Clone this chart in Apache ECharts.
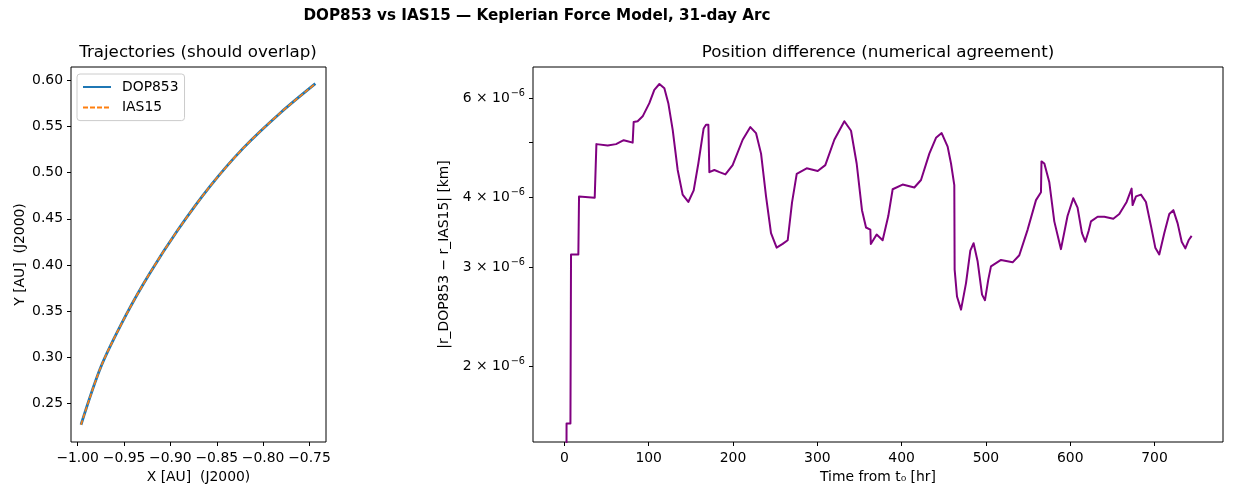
<!DOCTYPE html>
<html lang="en">
<head>
<meta charset="UTF-8">
<script src="https://cdn.jsdelivr.net/npm/echarts@6/dist/echarts.min.js"></script>
<style>
    html, body { margin: 0; padding: 0; background: #fff; }
    #chart { width: 1233px; height: 495px; }
</style>
</head>
<body>
<div id="chart"></div>
<script>
// heliocentric arc, AU (J2000) -- both integrators give the same track
var trajX = [-0.9964, -0.9748, -0.9478, -0.9227, -0.8920, -0.8571, -0.8212, -0.7815, -0.7437];
var trajY = [0.2273, 0.2903, 0.3461, 0.3904, 0.4379, 0.4854, 0.5268, 0.5646, 0.5963];

// time from t0 [hr]
var tHours = [0, 2.6, 7.2, 7.9, 16.6, 17.4, 36.0, 37.2, 38.0, 51.4, 61.3, 70.4, 75, 81,
    82.2, 86.9, 92.9, 100.8, 106.7, 112.7, 118.6, 123.3, 128.5, 134.4, 140.3, 147, 153.4,
    158.9, 165.2, 168, 170.8, 172, 177.9, 184, 191, 199.6, 211.5, 220.6, 227.3, 233.3,
    239.2, 245.1, 251.8, 258.9, 264.9, 270, 275.6, 287.4, 300.5, 309.5, 320.2, 332.1, 340,
    346.7, 353, 357.8, 362.9, 363.5, 370.4, 377.5, 384.2, 389.4, 401.2, 415.1, 423, 432.9,
    440.8, 447.5, 454.6, 458.6, 462.5, 462.9, 465.7, 470.5, 476.4, 481.5, 485.4, 490.2,
    495.4, 498.9, 502.8, 506, 517.9, 531.7, 539.6, 549.5, 559.4, 565.3, 565.9, 569.3,
    575.2, 581.1, 589, 596.8, 603.6, 608.7, 613.9, 617.9, 621.8, 624.6, 632.5, 640.4,
    651.1, 658.2, 666.9, 672.8, 674, 678, 683.9, 689.8, 695.8, 700.9, 705.6, 711.6,
    717.5, 722.3, 727.4, 732.2, 736.5, 740.4, 744];
// |r_DOP853 - r_IAS15| [km]
var posDiff = [1e-8, 1.58e-6, 1.58e-6, 3.16e-6, 3.16e-6, 4.01e-6, 3.99e-6, 3.98e-6, 4.97e-6,
    4.94e-6, 4.97e-6, 5.05e-6, 5.03e-6, 5.00e-6,
    5.44e-6, 5.46e-6, 5.57e-6, 5.88e-6, 6.21e-6, 6.36e-6, 6.25e-6, 5.88e-6, 5.27e-6, 4.47e-6,
    4.04e-6, 3.92e-6, 4.11e-6,
    4.59e-6, 5.30e-6, 5.38e-6, 5.38e-6, 4.43e-6, 4.47e-6, 4.43e-6, 4.39e-6, 4.56e-6, 5.06e-6,
    5.33e-6, 5.20e-6, 4.78e-6,
    4.01e-6, 3.45e-6, 3.25e-6, 3.30e-6, 3.35e-6, 3.91e-6, 4.40e-6, 4.50e-6, 4.45e-6, 4.56e-6,
    5.06e-6, 5.46e-6, 5.25e-6,
    4.59e-6, 3.79e-6, 3.53e-6, 3.50e-6, 3.30e-6, 3.43e-6, 3.35e-6, 3.70e-6, 4.13e-6, 4.21e-6,
    4.16e-6, 4.29e-6, 4.78e-6,
    5.10e-6, 5.20e-6, 4.92e-6, 4.59e-6, 4.20e-6, 2.97e-6, 2.66e-6, 2.52e-6, 2.81e-6, 3.21e-6,
    3.31e-6, 3.07e-6,
    2.68e-6, 2.62e-6, 2.85e-6, 3.01e-6, 3.09e-6, 3.06e-6, 3.15e-6, 3.50e-6, 3.95e-6, 4.08e-6,
    4.63e-6, 4.59e-6,
    4.25e-6, 3.62e-6, 3.23e-6, 3.70e-6, 3.98e-6, 3.83e-6, 3.45e-6, 3.33e-6, 3.48e-6, 3.62e-6,
    3.69e-6, 3.69e-6,
    3.66e-6, 3.73e-6, 3.92e-6, 4.14e-6, 3.87e-6, 4.01e-6, 4.04e-6, 3.92e-6, 3.55e-6, 3.25e-6,
    3.16e-6, 3.45e-6,
    3.73e-6, 3.79e-6, 3.59e-6, 3.33e-6, 3.24e-6, 3.35e-6, 3.41e-6];

var xTicksAU = [-1.00, -0.95, -0.90, -0.85, -0.80, -0.75];
var yTicksAU = [0.25, 0.30, 0.35, 0.40, 0.45, 0.50, 0.55, 0.60];
var tTicks = [0, 100, 200, 300, 400, 500, 600, 700];
var diffLabelTicks = [2e-6, 3e-6, 4e-6, 6e-6];
var diffTicks = [2e-6, 3e-6, 4e-6, 5e-6, 6e-6];

var trajData = trajX.map(function (x, i) { return [x, trajY[i]]; });
var diffData = tHours.map(function (t, i) { return [t, posDiff[i]]; });

function fmtAU(v) {
    var s = Math.abs(v).toFixed(2);
    return v < 0 ? '\u2212' + s : s;
}

var tickFont = 13.9;
function ax(type, grid, min, max, name, gap, ticks, labels, fmt) {
    return {
        type: type, gridIndex: grid, min: min, max: max,
        name: name, nameLocation: 'middle', nameGap: gap,
        nameTextStyle: { color: '#000', fontSize: tickFont },
        axisLine: { show: false, onZero: false },
        splitLine: { show: false },
        axisTick: { show: true, inside: false, length: 4, customValues: ticks,
                    lineStyle: { color: '#000', width: 1 } },
        axisLabel: { color: '#000', fontSize: tickFont, margin: 8, customValues: labels,
                     formatter: fmt }
    };
}

var xLeft = ax('value', 0, -1.0072, -0.7322, 'X [AU]  (J2000)', 27, xTicksAU, xTicksAU, fmtAU);
xLeft.axisLabel.margin = 9;
var yLeft = ax('value', 0, 0.2086, 0.6143, 'Y [AU]  (J2000)', 44, yTicksAU, yTicksAU,
    function (v) { return v.toFixed(2); });
var xRight = ax('value', 1, -37.2, 781.2, 'Time from t\u2080 [hr]', 27, tTicks, tTicks,
    function (v) { return String(v); });
xRight.axisLabel.margin = 9;
var yRight = ax('log', 1, 1.464e-6, 6.82e-6, '|r_DOP853 \u2212 r_IAS15| [km]', 74,
    diffTicks, diffLabelTicks,
    function (v) { return '{m|' + Math.round(v * 1e6) + ' \u00d7 10}{e|\u22126}'; });
yRight.axisLabel.rich = {
    m: { fontSize: tickFont, color: '#000' },
    e: { fontSize: 9.7, color: '#000', padding: [0, 0, 9, 1] }
};

var chart = echarts.init(document.getElementById('chart'));

var option = {
    backgroundColor: '#fff',
    animation: false,
    textStyle: { fontFamily: 'DejaVu Sans' },
    title: [
        { text: 'DOP853 vs IAS15 \u2014 Keplerian Force Model, 31-day Arc',
          left: 537, top: 9, textAlign: 'center', padding: 0,
          textStyle: { fontSize: 15.2, fontWeight: 'bold', color: '#000' } },
        { text: 'Trajectories (should overlap)', left: 198, top: 44, textAlign: 'center', padding: 0,
          textStyle: { fontSize: 16.7, fontWeight: 'normal', color: '#000' } },
        { text: 'Position difference (numerical agreement)', left: 878, top: 44, textAlign: 'center', padding: 0,
          textStyle: { fontSize: 16.7, fontWeight: 'normal', color: '#000' } }
    ],
    legend: {
        data: ['DOP853', 'IAS15'],
        orient: 'vertical',
        left: 77, top: 74,
        padding: [6, 6, 6, 5],
        itemWidth: 28, itemHeight: 14, itemGap: 6.6,
        itemStyle: { opacity: 0 },
        borderColor: '#cccccc', borderWidth: 1, borderRadius: 3,
        textStyle: { fontSize: tickFont, color: '#000', padding: [0, 0, 0, 6] }
    },
    grid: [
        { left: 71, top: 67, width: 255, height: 375, show: true,
          borderColor: '#000', borderWidth: 1, backgroundColor: 'transparent' },
        { left: 533, top: 67, width: 690, height: 375, show: true,
          borderColor: '#000', borderWidth: 1, backgroundColor: 'transparent' }
    ],
    xAxis: [xLeft, xRight],
    yAxis: [yLeft, yRight],
    series: [
        { name: 'DOP853', type: 'line', xAxisIndex: 0, yAxisIndex: 0, data: trajData,
          smooth: 0.3, showSymbol: false, symbol: 'none',
          lineStyle: { color: '#1f77b4', width: 2.8 }, itemStyle: { color: '#1f77b4' } },
        { name: 'IAS15', type: 'line', xAxisIndex: 0, yAxisIndex: 0, data: trajData,
          smooth: 0.3, showSymbol: false, symbol: 'none',
          lineStyle: { color: '#ff7f0e', width: 1.6, type: [5, 2] }, itemStyle: { color: '#ff7f0e' } },
        { name: 'diff', type: 'line', xAxisIndex: 1, yAxisIndex: 1, data: diffData,
          showSymbol: false, symbol: 'none', clip: true,
          lineStyle: { color: '#800080', width: 2, join: 'round' } }
    ]
};
chart.setOption(option);
</script>
</body>
</html>
